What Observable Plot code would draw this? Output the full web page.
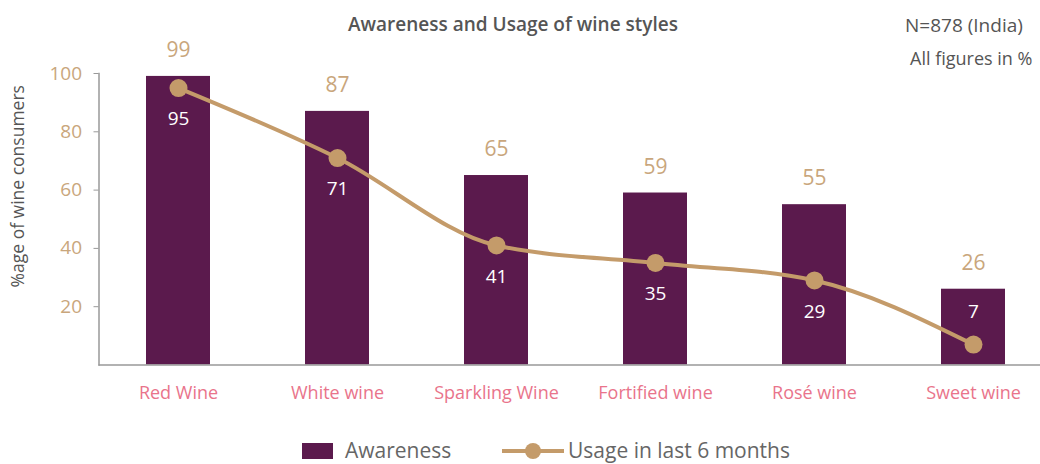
<!DOCTYPE html>
<html>
<head>
<meta charset="utf-8">
<script src="https://cdn.jsdelivr.net/npm/d3@7"></script>
<script src="https://cdn.jsdelivr.net/npm/@observablehq/plot@0.6"></script>
<style>
  html, body { margin: 0; padding: 0; background: #fff; overflow: hidden; }
  #wrap { position: relative; width: 1040px; height: 464px; font-family: "Open Sans", sans-serif; overflow: hidden; }
  #chart { position: absolute; left: 0; top: 0; }
  .title { position: absolute; top: 11px; left: -7px; width: 1040px; text-align: center; font-size: 19px; font-weight: 600; color: #555; white-space: nowrap; }
  .note { position: absolute; font-size: 18px; color: #555; white-space: nowrap; }
  .lg { position: absolute; font-size: 21px; color: #666; white-space: nowrap; line-height: 1; }
  .sw { position: absolute; left: 302px; top: 443px; width: 31px; height: 16px; background: #5b1a4d; }
</style>
</head>
<body>
<div id="wrap">
  <div class="title">Awareness and Usage of wine styles</div>
  <div class="note" style="left:905px; top:12px; font-size:19px;">N=878 (India)</div>
  <div class="note" style="left:910px; top:46px;">All figures in %</div>
  <div id="chart"></div>
  <span class="sw"></span>
  <div class="lg" style="left:345px; top:440px;">Awareness</div>
  <svg style="position:absolute; left:502px; top:441px;" width="62" height="20"><line x1="0" y1="10" x2="62" y2="10" stroke="#c49b6a" stroke-width="4"/><circle cx="31" cy="10" r="8" fill="#c49b6a"/></svg>
  <div class="lg" style="left:568px; top:440px;">Usage in last 6 months</div>
</div>
<script>
const categories = ["Red Wine", "White wine", "Sparkling Wine", "Fortified wine", "Rosé wine", "Sweet wine"];
const awareness = [99, 87, 65, 59, 55, 26];
const usage = [95, 71, 41, 35, 29, 7];
const yTicks = [20, 40, 60, 80, 100];

const rows = categories.map((c, i) => ({style: c, awareness: awareness[i], usage: usage[i], last: i === categories.length - 1}));

const purple = "#5b1a4d";
const tan = "#c49b6a";

const chart = Plot.plot({
  width: 1040,
  height: 464,
  marginTop: 73,
  marginBottom: 99.5,
  marginLeft: 98.5,
  marginRight: -12.5,
  style: {fontFamily: "Open Sans, sans-serif", background: "transparent"},
  x: {domain: categories, paddingInner: 0.6, paddingOuter: 0.3, label: null},
  y: {domain: [0, 100], label: null},
  marks: [
    Plot.barY(rows, {x: "style", y: "awareness", fill: purple}),
    Plot.ruleY([0], {stroke: "#999", strokeWidth: 1.5}),
    Plot.frame({anchor: "left", stroke: "#999", strokeWidth: 1.5}),
    Plot.axisY({ticks: yTicks, tickSize: 5, tickPadding: 12, stroke: "#999", fill: "#c9a67c", fontSize: 19, label: null}),
    Plot.axisX({tickSize: 0, tickPadding: 21, fill: "#e9748b", fontSize: 18, label: null}),
    Plot.text(["%age of wine consumers"], {frameAnchor: "left", textAnchor: "middle", dx: -81, dy: -33, rotate: -90, fontSize: 17.5, fill: "#555"}),
    Plot.line(rows, {x: "style", y: "usage", stroke: tan, strokeWidth: 4, curve: "monotone-x"}),
    Plot.dot(rows, {x: "style", y: "usage", r: 9, fill: tan}),
    Plot.text(rows, {x: "style", y: "awareness", text: "awareness", dy: -26, fill: "#c9a67c", fontSize: 21}),
    Plot.text(rows.filter(d => !d.last), {x: "style", y: "usage", text: "usage", dy: 31, fill: "white", fontSize: 19}),
    Plot.text(rows.filter(d => d.last), {x: "style", y: "usage", text: "usage", dy: -33, fill: "white", fontSize: 19})
  ]
});
document.getElementById("chart").appendChild(chart);
</script>
</body>
</html>
